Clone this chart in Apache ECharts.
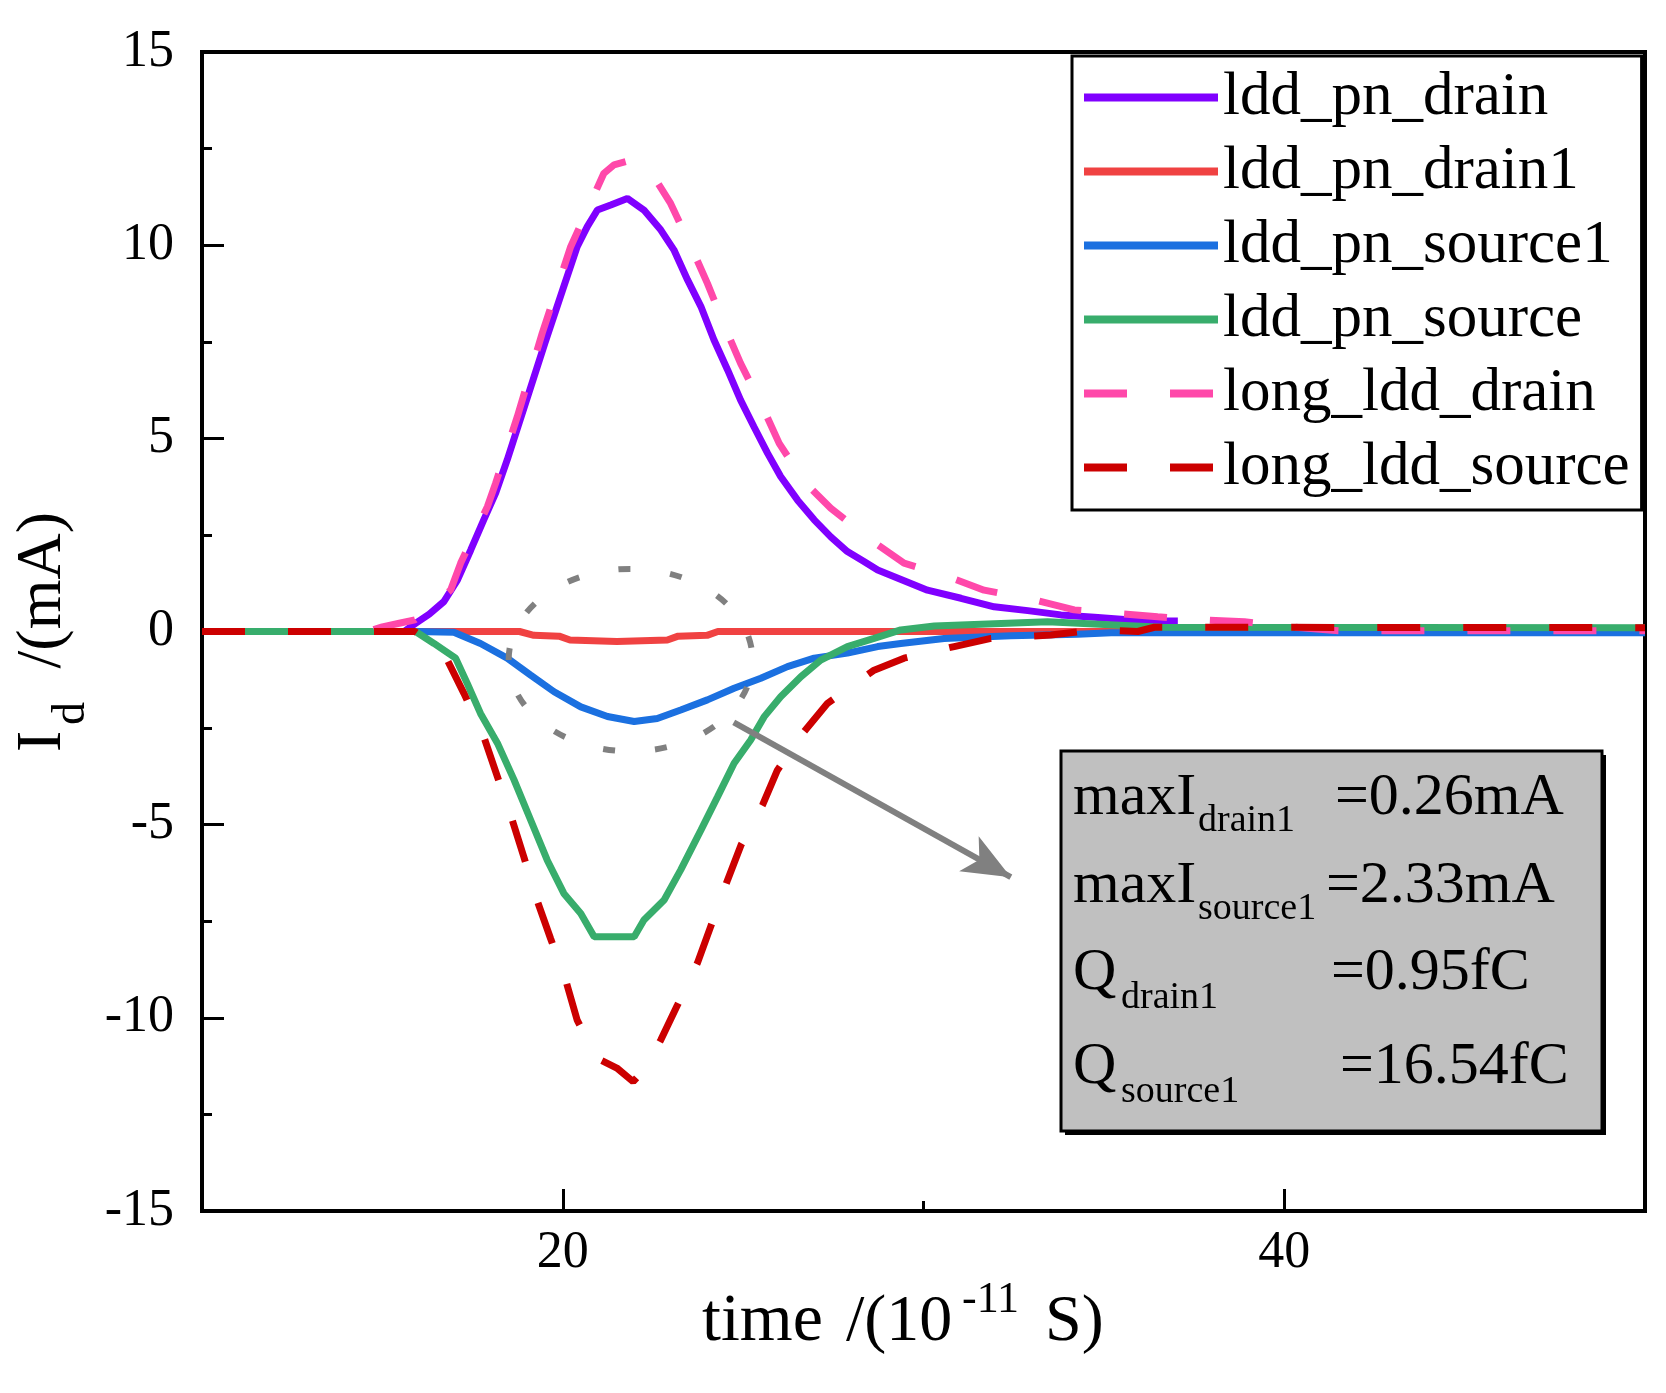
<!DOCTYPE html>
<html>
<head>
<meta charset="utf-8">
<script src="https://cdn.jsdelivr.net/npm/echarts@6/dist/echarts.min.js"></script>
<style>
  html, body { margin: 0; padding: 0; background: #fff; }
  #chart { width: 1666px; height: 1393px; }
</style>
</head>
<body>
<div id="chart"></div>
<script>
// series names
var names = ['ldd_pn_drain', 'ldd_pn_drain1', 'ldd_pn_source1', 'ldd_pn_source', 'long_ldd_drain', 'long_ldd_source'];

// ldd_pn_drain
var drainT = [10, 15.6, 15.92, 16.3, 16.7, 17.08, 17.45, 17.81, 18.14, 18.46, 19.0, 19.5, 20.0, 20.4, 20.68, 20.96, 21.33, 21.79, 22.25, 22.72, 23.08, 23.46, 23.83, 24.19, 24.57, 24.93, 25.3, 25.68, 26.04, 26.51, 26.97, 27.43, 27.89, 28.35, 28.73, 29.19, 30.11, 31.04, 31.96, 32.89, 33.81, 34.74, 36.12, 37.05];
var drainI = [0, 0, 0.21, 0.45, 0.77, 1.33, 2.11, 2.89, 3.58, 4.44, 6.0, 7.45, 8.85, 9.96, 10.48, 10.91, 11.04, 11.21, 10.91, 10.39, 9.88, 9.1, 8.41, 7.55, 6.77, 5.99, 5.3, 4.61, 4.01, 3.4, 2.89, 2.45, 2.07, 1.81, 1.59, 1.42, 1.07, 0.86, 0.64, 0.54, 0.43, 0.37, 0.27, 0.27];

// ldd_pn_drain1
var drain1T = [10, 18.8, 19.2, 19.9, 20.2, 21.5, 22.9, 23.2, 24.0, 24.3, 50];
var drain1I = [0, 0, -0.1, -0.12, -0.22, -0.26, -0.22, -0.12, -0.1, 0, 0];

// ldd_pn_source1
var source1T = [10, 15.92, 16.98, 17.72, 18.46, 19.11, 19.76, 20.5, 21.24, 21.98, 22.62, 23.27, 24.01, 24.75, 25.49, 26.23, 26.97, 27.89, 28.73, 29.37, 30.57, 32.42, 34.27, 35.2, 50];
var source1I = [0, 0, -0.02, -0.31, -0.69, -1.13, -1.56, -1.95, -2.2, -2.33, -2.25, -2.03, -1.77, -1.47, -1.21, -0.91, -0.69, -0.56, -0.39, -0.31, -0.18, -0.11, -0.07, -0.03, -0.03];

// ldd_pn_source
var sourceT = [10, 15.92, 16.43, 17.03, 17.35, 17.72, 18.19, 18.65, 19.11, 19.57, 20.03, 20.5, 20.87, 21.98, 22.25, 22.81, 23.27, 23.83, 24.29, 24.75, 25.21, 25.58, 26.04, 26.6, 27.15, 27.89, 28.63, 29.37, 30.3, 33.44, 36.59, 50];
var sourceI = [0, 0, -0.31, -0.69, -1.34, -2.12, -2.89, -3.84, -4.88, -5.92, -6.78, -7.3, -7.9, -7.9, -7.47, -6.95, -6.17, -5.14, -4.28, -3.41, -2.81, -2.21, -1.69, -1.17, -0.74, -0.39, -0.18, 0.04, 0.14, 0.25, 0.11, 0.1];

// long_ldd_drain
var longDrainT = [10, 14.6, 15.0, 15.5, 15.9, 16.89, 17.17, 17.91, 18.14, 18.74, 19.43, 20.22, 21.14, 21.42, 21.88, 22.44, 22.99, 23.64, 24.01, 24.57, 24.93, 25.58, 26.0, 26.69, 27.43, 28.54, 29.46, 30.67, 31.68, 33.07, 34.18, 35.38, 36.49, 37.79, 38.9, 40.19, 41.5, 50];
var longDrainI = [0, 0, 0.12, 0.22, 0.3, 1.07, 1.77, 3.23, 3.84, 5.56, 7.72, 9.96, 11.86, 12.08, 12.2, 11.9, 11.08, 9.79, 9.01, 7.72, 6.94, 5.73, 4.87, 3.88, 3.19, 2.37, 1.77, 1.42, 1.07, 0.82, 0.56, 0.47, 0.38, 0.3, 0.25, 0.12, 0.02, 0.02];

// long_ldd_source
var longSourceT = [10, 15.9, 16.3, 16.8, 17.26, 17.81, 18.19, 18.6, 18.92, 19.3, 19.66, 20.08, 20.4, 20.96, 21.5, 21.95, 22.3, 22.72, 23.18, 23.73, 24.1, 24.57, 24.94, 25.54, 25.95, 26.69, 27.34, 28.63, 29.46, 30.85, 31.87, 33.53, 34.74, 35.94, 36.4, 50];
var longSourceI = [0, 0, -0.25, -0.74, -1.6, -2.72, -3.76, -4.88, -5.83, -6.99, -7.94, -9.02, -10.06, -11.05, -11.3, -11.65, -11.3, -10.57, -9.67, -8.59, -7.64, -6.43, -5.53, -4.49, -3.59, -2.59, -1.86, -1.0, -0.69, -0.39, -0.18, -0.09, 0.04, 0, 0.11, 0.1];

// axis ticks
var xLabels = [20, 40];
var xMinorTicks = [30];

// annotation (arrow from circled region to box, ellipse around source1 dip)
var arrowFrom = [24.74, -2.35];
var arrowTo = [32.42, -6.36];
var ringCenter = [21.88, -0.74];
var ringRadius = [3.38, 2.36];

var SERIF = '"Liberation Serif", "Times New Roman", serif';
var LW = 7;

function pairs(t, v) {
  return t.map(function(x, i) { return [x, v[i]]; });
}

function mkLine(name, t, v, color, dashed) {
  return {
    name: name,
    type: 'line',
    data: pairs(t, v),
    showSymbol: false,
    symbol: 'none',
    smooth: false,
    lineStyle: { color: color, width: LW, type: dashed ? [43, 43] : 'solid', cap: 'butt' },
    itemStyle: { color: color },
    animation: false,
    z: 3
  };
}

var chart = echarts.init(document.getElementById('chart'), null, { renderer: 'canvas' });

var series = [
  mkLine(names[0], drainT, drainI, '#8000ff', false),
  mkLine(names[1], drain1T, drain1I, '#f04242', false),
  mkLine(names[2], source1T, source1I, '#1b70e0', false),
  mkLine(names[3], sourceT, sourceI, '#38ad6c', false),
  mkLine(names[4], longDrainT, longDrainI, '#ff48aa', true),
  mkLine(names[5], longSourceT, longSourceI, '#cc0000', true)
];

// arrow
series[5].markLine = {
  silent: true,
  animation: false,
  symbol: ['none', 'arrow'],
  symbolSize: [30, 48],
  label: { show: false },
  lineStyle: { color: '#808080', width: 6, type: 'solid' },
  data: [[{ coord: arrowFrom }, { coord: arrowTo }]]
};

var option = {
  animation: false,
  backgroundColor: '#fff',
  grid: {
    left: 202, right: 21, top: 52, bottom: 182,
    show: true, borderColor: '#000', borderWidth: 4, backgroundColor: 'transparent'
  },
  legend: {
    data: names,
    orient: 'vertical',
    left: 1072,
    top: 56,
    itemWidth: 134,
    itemHeight: 14,
    itemGap: 13,
    padding: [11, 12, 12, 8],
    backgroundColor: '#fff',
    borderColor: '#000',
    borderWidth: 3,
    borderRadius: 0,
    selectedMode: false,
    itemStyle: { opacity: 0 },
    lineStyle: { width: 8 },
    textStyle: { fontFamily: SERIF, fontSize: 61, color: '#000', lineHeight: 61 }
  },
  xAxis: [{
    type: 'value',
    min: 10, max: 50, interval: 10,
    axisLine: { show: true, onZero: false, lineStyle: { color: '#000', width: 4 } },
    axisTick: { show: true, inside: true, length: 22, customValues: xLabels, lineStyle: { color: '#000', width: 3 } },
    axisLabel: { customValues: xLabels, margin: 16, fontFamily: SERIF, fontSize: 52, color: '#000' },
    splitLine: { show: false }
  }, {
    type: 'value',
    min: 10, max: 50, interval: 10,
    position: 'bottom',
    axisLine: { show: false, onZero: false },
    axisTick: { show: true, inside: true, length: 10, customValues: xMinorTicks, lineStyle: { color: '#000', width: 3 } },
    axisLabel: { show: false },
    splitLine: { show: false }
  }],
  yAxis: {
    type: 'value',
    min: -15, max: 15, interval: 5,
    axisLine: { show: true, onZero: false, lineStyle: { color: '#000', width: 4 } },
    axisTick: { show: true, inside: true, length: 22, lineStyle: { color: '#000', width: 3 } },
    minorTick: { show: true, splitNumber: 2, length: 10, lineStyle: { color: '#000', width: 3 } },
    axisLabel: { margin: 28, fontFamily: SERIF, fontSize: 52, color: '#000' },
    splitLine: { show: false },
    minorSplitLine: { show: false }
  },
  series: series
};

chart.setOption(option);

// text helper: x, baseline y, size
function txt(s, x, base, size, align) {
  return {
    type: 'text',
    x: x,
    y: base - 0.34 * size,
    z: 100,
    style: {
      text: s,
      font: size + 'px ' + SERIF,
      fill: '#000',
      align: align || 'left',
      verticalAlign: 'middle',
      textAlign: align || 'left',
      textVerticalAlign: 'middle'
    }
  };
}

// rotated text for y title: mid = screen x of text middle line, y = start
function vtxt(s, mid, y, size, align) {
  return {
    type: 'text',
    x: mid,
    y: y,
    rotation: Math.PI / 2,
    z: 100,
    style: {
      text: s,
      font: size + 'px ' + SERIF,
      fill: '#000',
      align: align || 'left',
      verticalAlign: 'middle',
      textAlign: align || 'left',
      textVerticalAlign: 'middle'
    }
  };
}

var c = chart.convertToPixel({ xAxisIndex: 0, yAxisIndex: 0 }, ringCenter);
var e = chart.convertToPixel({ xAxisIndex: 0, yAxisIndex: 0 }, [ringCenter[0] + ringRadius[0], ringCenter[1] + ringRadius[1]]);

var graphics = [
  // dotted ring
  {
    type: 'ellipse',
    z: 50,
    shape: { cx: c[0], cy: c[1], rx: Math.abs(e[0] - c[0]), ry: Math.abs(c[1] - e[1]) },
    style: { fill: null, stroke: '#808080', lineWidth: 6, lineDash: [12, 40] }
  },
  // annotation box shadow + box
  { type: 'rect', z: 60, shape: { x: 1065, y: 755, width: 541, height: 380 }, style: { fill: '#000' } },
  { type: 'rect', z: 61, shape: { x: 1061, y: 751, width: 541, height: 380 }, style: { fill: '#c0c0c0', stroke: '#000', lineWidth: 3 } },

  txt('maxI', 1073, 819, 60),
  txt('drain1', 1198, 834, 38),
  txt('=0.26mA', 1335, 819, 60),

  txt('maxI', 1073, 907, 60),
  txt('source1', 1198, 922, 38),
  txt('=2.33mA', 1326, 907, 60),

  txt('Q', 1073, 994, 60),
  txt('drain1', 1121, 1011, 38),
  txt('=0.95fC', 1331, 994, 60),

  txt('Q', 1073, 1088, 60),
  txt('source1', 1121, 1105, 38),
  txt('=16.54fC', 1340, 1088, 60),

  // x title
  txt('time', 702, 1345, 68),
  txt('/(10', 846, 1345, 66),
  txt('-11', 962, 1315, 44),
  txt('S)', 1045, 1345, 66),

  // y title
  vtxt('I', 43, 752, 64),
  vtxt('d', 72, 725, 46),
  vtxt('/(mA)', 43, 512, 64, 'right')
];

chart.setOption({ graphic: graphics });
</script>
</body>
</html>
